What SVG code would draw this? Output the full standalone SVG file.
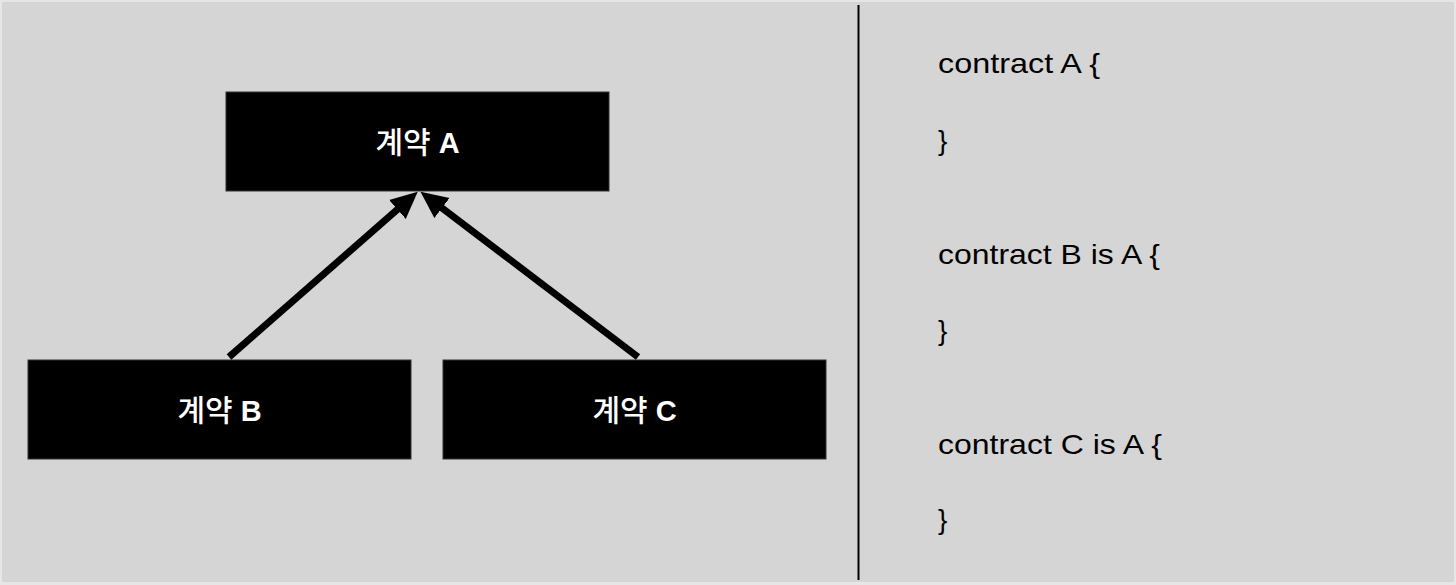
<svg xmlns="http://www.w3.org/2000/svg" width="1456" height="585" viewBox="0 0 1456 585">
<style>
.node rect{fill:#000;stroke:#333;stroke-width:1}
.label{fill:#fff;font-family:"Liberation Sans","Noto Sans CJK KR",sans-serif;font-size:29px;font-weight:bold;text-anchor:middle}
.ko{font-family:"Noto Sans CJK KR",sans-serif;font-size:30px;font-weight:500}
.code{fill:#000;font-family:"Liberation Sans","Noto Sans CJK KR",sans-serif;font-size:28px}
.edge{stroke:#000;stroke-width:7;fill:none;marker-end:url(#arrow)}
</style>
<defs>
<marker id="arrow" markerUnits="userSpaceOnUse" markerWidth="30" markerHeight="28" viewBox="0 -14 30 28" refX="5" refY="0" orient="auto">
<path d="M0,-12.6 L27,0 L0,12.6 z" fill="#000"/>
</marker>
</defs>
<rect x="0" y="0" width="1456" height="585" fill="#e6e6e6"/>
<rect x="2" y="2" width="1452" height="580" fill="#d5d5d5"/>
<line x1="858.5" y1="5" x2="858.5" y2="580" stroke="#000" stroke-width="2"/>
<g id="nodeA" class="node">
<rect x="226" y="92" width="383" height="99"/>
<text class="label" x="417.5" y="153"><tspan class="ko">계약</tspan> A</text>
</g>
<g id="nodeB" class="node">
<rect x="28" y="360" width="383" height="99"/>
<text class="label" x="219.5" y="421"><tspan class="ko">계약</tspan> B</text>
</g>
<g id="nodeC" class="node">
<rect x="443" y="360" width="383" height="99"/>
<text class="label" x="634.5" y="421"><tspan class="ko">계약</tspan> C</text>
</g>
<g id="connectors">
<line class="edge" x1="229" y1="357" x2="401.2" y2="206.2"/>
<line class="edge" x1="638" y1="357" x2="438" y2="205"/>
</g>
<g id="code">
<text class="code" x="938" y="73" textLength="162" lengthAdjust="spacingAndGlyphs">contract A {</text>
<text class="code" x="938" y="150">}</text>
<text class="code" x="938" y="264" textLength="222" lengthAdjust="spacingAndGlyphs">contract B is A {</text>
<text class="code" x="938" y="340">}</text>
<text class="code" x="938" y="454" textLength="224" lengthAdjust="spacingAndGlyphs">contract C is A {</text>
<text class="code" x="938" y="529">}</text>
</g>
</svg>
